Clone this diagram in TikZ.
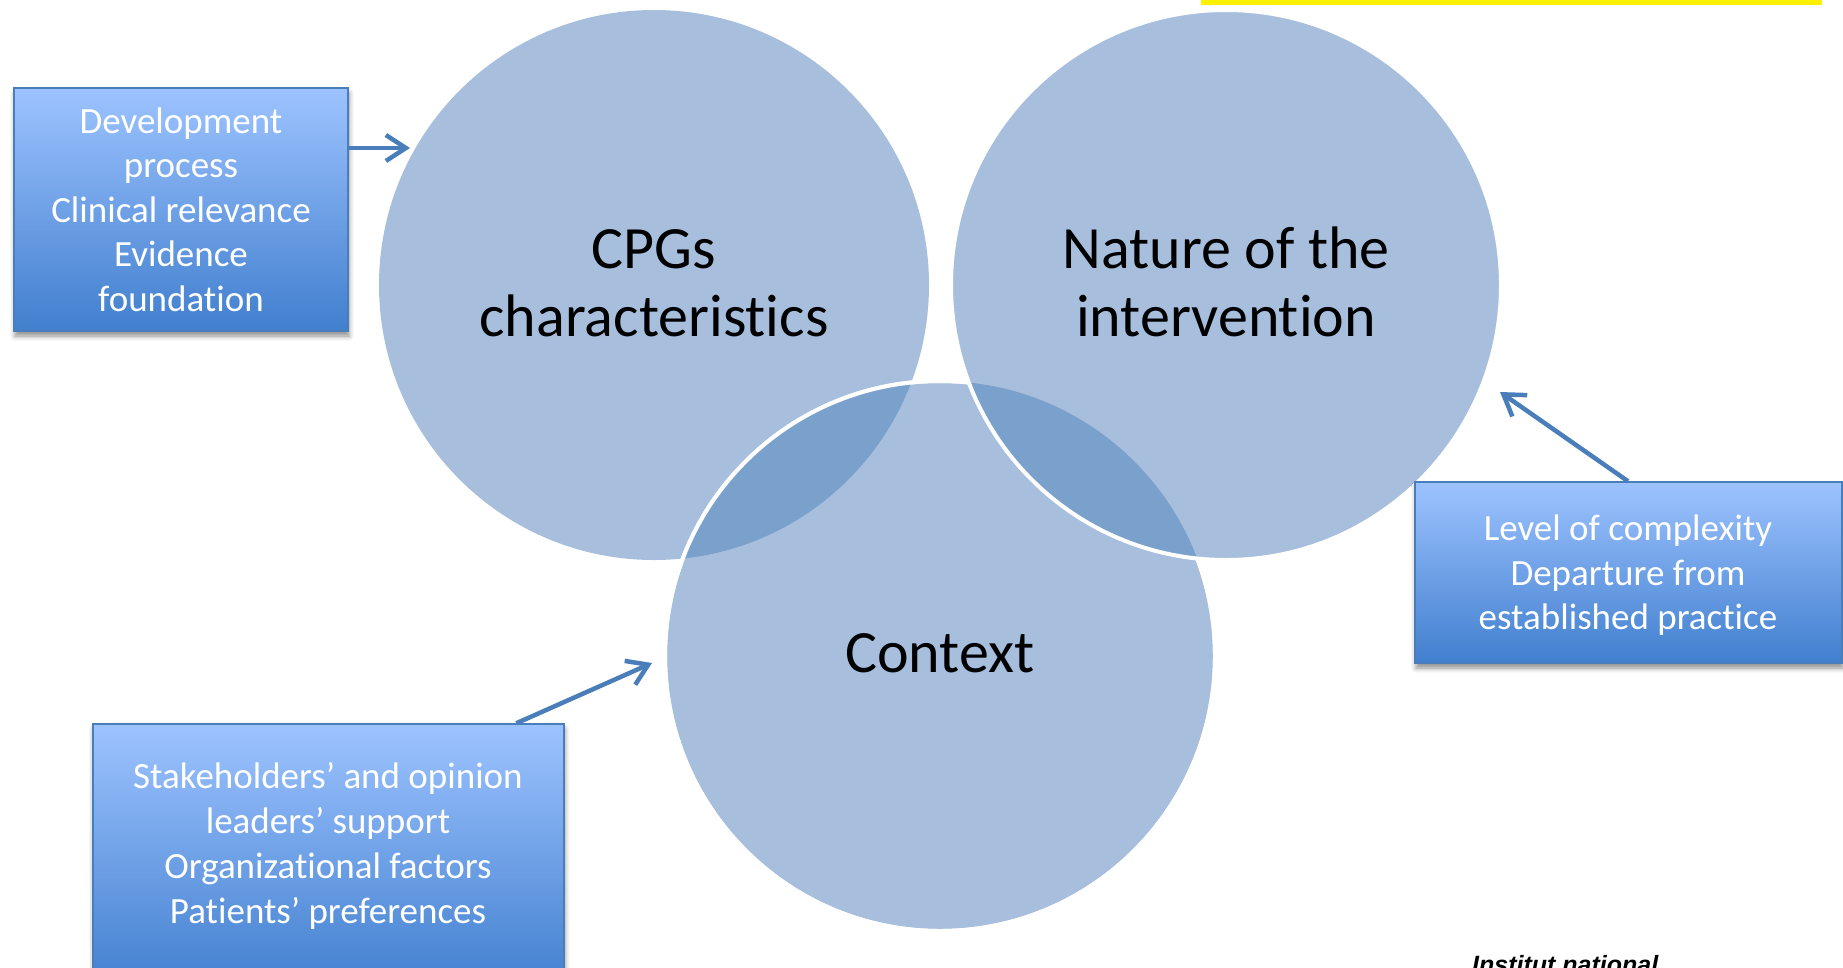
\documentclass[tikz,border=0pt]{standalone}
\usepackage{fontspec}
\setmainfont{Carlito}[Ligatures=NoCommon]
\newfontfamily\instfont{Liberation Sans}
\usetikzlibrary{arrows.meta,shadows.blur}
\definecolor{vennlight}{RGB}{167,191,221}
\definecolor{venndark}{RGB}{122,160,204}
\definecolor{boxtop}{RGB}{157,195,255}
\definecolor{boxbot}{RGB}{65,127,206}
\definecolor{boxline}{RGB}{74,126,187}
\definecolor{arrowblue}{RGB}{74,126,187}
\definecolor{baryellow}{RGB}{255,242,0}
\begin{document}
\begin{tikzpicture}[x=1pt,y=-1pt,
  venn/.style={circle,minimum size=550pt,inner sep=0pt,outer sep=0pt,fill=vennlight},
  vennline/.style={draw=white,line width=4pt},
  bigtext/.style={font=\fontsize{60}{68}\selectfont,text=black,inner sep=0pt,anchor=base},
  infobox/.style={rectangle,draw=boxline,line width=1.5pt,top color=boxtop,bottom color=boxbot,inner sep=0pt,
     blur shadow={shadow xshift=1pt,shadow yshift=-5pt,shadow blur radius=5pt,shadow opacity=45}},
  boxtext/.style={font=\fontsize{37}{45}\selectfont,text=white,inner sep=0pt,anchor=base},
  arr/.style={draw=arrowblue,line width=4.5pt,-{Straight Barb[length=20pt,width=26pt]}},
]
\useasboundingbox (0,0) rectangle (1843,967);
\clip (0,0) rectangle (1843,967);

% yellow bar
\fill[baryellow] (1201,0) rectangle (1822,4.5);

% Venn circles
\node[venn] (cpg) at (654,285) {};
\node[venn] (ctx) at (940,656) {};
\draw[vennline] (ctx.center) circle[radius=275pt];
\begin{scope}
  \clip (cpg.center) circle[radius=275pt];
  \fill[venndark] (ctx.center) circle[radius=275pt];
\end{scope}
\draw[vennline] (ctx.center) circle[radius=275pt];
\node[venn] (nat) at (1226,285) {};
\begin{scope}
  \clip (nat.center) circle[radius=275pt];
  \fill[venndark] (ctx.center) circle[radius=275pt];
\end{scope}
\draw[vennline] (nat.center) circle[radius=275pt];

% circle labels
\node[bigtext] (cpgA) at (654,268) {CPGs};
\node[bigtext] (cpgB) at (654,336) {characteristics};
\node[bigtext] (natA) at (1226,268) {Nature of the};
\node[bigtext] (natB) at (1226,336) {intervention};
\node[bigtext] (ctxA) at (940,672.5) {Context};

% boxes
\node[infobox,minimum width=334pt,minimum height=243pt] (b1) at (181,209.5) {};
\node[boxtext] (b1a) at (181,133) {Development};
\node[boxtext] (b1b) at (181,177.5) {process};
\node[boxtext] (b1c) at (181,222) {Clinical relevance};
\node[boxtext] (b1d) at (181,266.5) {Evidence};
\node[boxtext] (b1e) at (181,311) {foundation};

\node[infobox,minimum width=427pt,minimum height=181pt] (b2) at (1628.5,572.5) {};
\node[boxtext] (b2a) at (1628,540) {Level of complexity};
\node[boxtext] (b2b) at (1628,585) {Departure from};
\node[boxtext] (b2c) at (1628,629) {established practice};

\node[infobox,minimum width=471pt,minimum height=266pt] (b3) at (328.3,857) {};
\node[boxtext] (b3a) at (328,788) {Stakeholders’ and opinion};
\node[boxtext] (b3b) at (328,833) {leaders’ support};
\node[boxtext] (b3c) at (328,878) {Organizational factors};
\node[boxtext] (b3d) at (328,923) {Patients’ preferences};

% arrows
\coordinate (t1) at (410,148);
\coordinate (t2) at (1500,392);
\coordinate (t3) at (652,663);
\draw[arr] (b1.east |- t1) -- (t1);
\draw[arr] ([xshift=-0.5pt]b2.north) -- (t2);
\draw[arr] ([xshift=188pt]b3.north) -- (t3);

% logo text (cut off at the lower edge, as in the reference)
\node[font=\instfont\bfseries\itshape\fontsize{25}{30}\selectfont,anchor=base west,inner sep=0pt] (inst) at (1472,973) {Institut national};
\end{tikzpicture}
\end{document}
